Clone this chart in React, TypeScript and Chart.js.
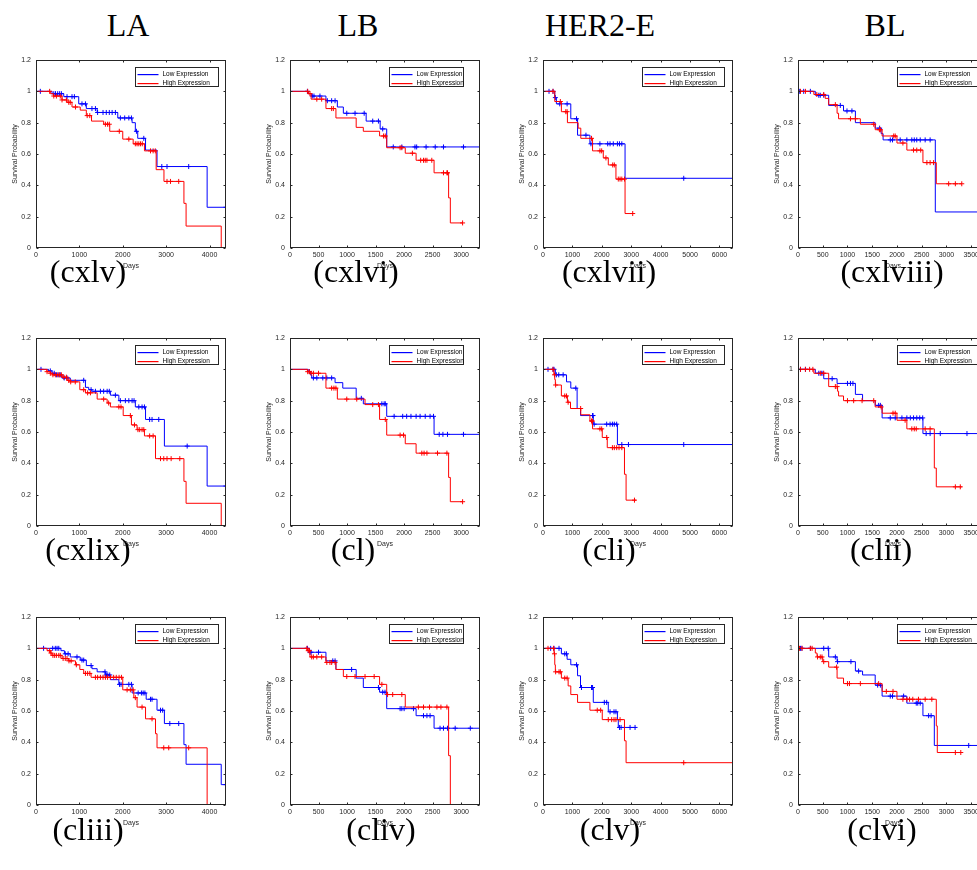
import React, { useEffect, useRef } from "react";
import { Chart, registerables } from "chart.js";

Chart.register(...registerables);

type Step = [number, number];

// ---------- text ----------
const columnTitles = ["LA", "LB", "HER2-E", "BL"];
const captions = [
  ["(cxlv)", "(cxlvi)", "(cxlvii)", "(cxlviii)"],
  ["(cxlix)", "(cl)", "(cli)", "(clii)"],
  ["(cliii)", "(cliv)", "(clv)", "(clvi)"],
];
const legendLabels = ["Low Expression", "High Expression"];
const xTitle = "Days";
const yTitle = "Survival Probability";

// ---------- axes ----------
const laTicks = [0, 1000, 2000, 3000, 4000];
const lbTicks = [0, 500, 1000, 1500, 2000, 2500, 3000];
const herTicks = [0, 1000, 2000, 3000, 4000, 5000, 6000];
const blTicks = [0, 500, 1000, 1500, 2000, 2500, 3000, 3500];
const columnTicks = [laTicks, lbTicks, herTicks, blTicks];
const columnXMax = [4380, 3330, 6460, 3840];
const yTicks = [0, 0.2, 0.4, 0.6, 0.8, 1, 1.2];

// ---------- data: [day, survival] steps, censor days ----------
// (cxlv) LA
const p145Low: Step[] = [[0, 1], [370, 0.985], [640, 0.966], [985, 0.92], [1160, 0.89], [1410, 0.865], [1885, 0.83], [2215, 0.8], [2290, 0.745], [2345, 0.7], [2525, 0.625], [2790, 0.52], [3945, 0.26], [4380, 0.26]];
const p145LowC = [100, 410, 450, 500, 545, 585, 715, 830, 885, 1060, 1140, 1290, 1370, 1420, 1545, 1620, 1690, 1755, 1830, 1945, 2045, 2140, 2200, 2315, 2485, 2900, 3020, 3520, 4380];
const p145High: Step[] = [[0, 1], [330, 0.985], [400, 0.97], [600, 0.945], [715, 0.93], [830, 0.9], [1020, 0.88], [1160, 0.845], [1280, 0.81], [1560, 0.79], [1700, 0.745], [2000, 0.695], [2240, 0.665], [2500, 0.62], [2770, 0.5], [2950, 0.425], [3410, 0.285], [3460, 0.14], [4270, 0]];
const p145HighC = [315, 410, 470, 560, 600, 700, 755, 790, 910, 1180, 1240, 1600, 1650, 1690, 1920, 2140, 2290, 2330, 2370, 2410, 2450, 2640, 2700, 2750, 3020, 3100, 3290];

// (cxlvi) LB
const p146Low: Step[] = [[0, 1], [320, 0.985], [380, 0.97], [630, 0.94], [830, 0.9], [935, 0.86], [1335, 0.81], [1580, 0.76], [1695, 0.645], [3330, 0.645]];
const p146LowC = [305, 390, 420, 525, 655, 730, 790, 995, 1140, 1300, 1450, 1550, 1625, 1810, 1960, 2190, 2220, 2385, 2545, 2690, 3040];
const p146High: Step[] = [[0, 1], [320, 0.985], [370, 0.95], [630, 0.89], [805, 0.83], [1160, 0.77], [1285, 0.745], [1570, 0.715], [1695, 0.64], [2020, 0.605], [2210, 0.56], [2525, 0.48], [2780, 0.32], [2810, 0.16], [3030, 0.16]];
const p146HighC = [310, 350, 470, 555, 730, 760, 1640, 1670, 1930, 1960, 2145, 2290, 2340, 2370, 2400, 2485, 2690, 2750, 2760, 3025];

// (cxlvii) HER2-E
const p147Low: Step[] = [[0, 1], [400, 0.96], [455, 0.92], [945, 0.825], [1175, 0.72], [1595, 0.665], [2790, 0.445], [6460, 0]];
const p147LowC = [205, 340, 420, 570, 820, 1140, 1460, 1630, 1935, 2200, 2280, 2390, 2530, 2600, 2680, 4785];
const p147High: Step[] = [[0, 1], [400, 0.935], [625, 0.87], [830, 0.8], [1195, 0.765], [1285, 0.7], [1685, 0.62], [2050, 0.575], [2220, 0.53], [2480, 0.44], [2790, 0.22], [3075, 0.22]];
const p147HighC = [340, 590, 775, 820, 1650, 1935, 1995, 2140, 2370, 2425, 2560, 2620, 2680, 2770, 3050];

// (cxlviii) BL
const p148Low: Step[] = [[0, 1], [350, 0.975], [620, 0.91], [920, 0.875], [1160, 0.8], [1560, 0.765], [1680, 0.73], [1720, 0.69], [2775, 0.23], [3840, 0.23]];
const p148LowC = [35, 115, 250, 420, 450, 520, 855, 990, 1090, 1650, 1865, 1910, 2065, 2200, 2300, 2350, 2400, 2470, 2570, 2670];
const p148High: Step[] = [[0, 1], [320, 0.98], [550, 0.955], [620, 0.915], [790, 0.86], [820, 0.825], [1260, 0.79], [1560, 0.755], [1700, 0.715], [2000, 0.67], [2200, 0.625], [2525, 0.545], [2795, 0.41], [3310, 0.41]];
const p148HighC = [50, 150, 380, 520, 755, 1060, 1160, 1530, 1645, 1665, 1935, 1965, 2120, 2335, 2400, 2480, 2605, 2670, 2740, 3045, 3180, 3310];

// (cxlix) LA
const p149Low: Step[] = [[0, 1], [290, 0.99], [370, 0.975], [450, 0.965], [600, 0.945], [790, 0.93], [1140, 0.885], [1215, 0.87], [1290, 0.86], [1715, 0.835], [1910, 0.8], [2290, 0.76], [2525, 0.68], [2960, 0.51], [3945, 0.255], [4380, 0.255]];
const p149LowC = [115, 330, 420, 470, 525, 560, 650, 715, 1100, 1270, 1370, 1485, 1560, 1640, 1690, 1830, 1945, 2060, 2140, 2215, 2260, 2370, 2445, 2500, 2620, 2675, 2830, 3485, 4380];
const p149High: Step[] = [[0, 1], [250, 0.985], [330, 0.975], [380, 0.965], [600, 0.95], [715, 0.93], [790, 0.92], [1010, 0.87], [1140, 0.85], [1410, 0.81], [1640, 0.785], [1715, 0.76], [2010, 0.705], [2200, 0.645], [2330, 0.615], [2500, 0.575], [2755, 0.43], [3410, 0.285], [3460, 0.145], [4270, 0]];
const p149HighC = [255, 330, 390, 445, 500, 545, 585, 640, 700, 755, 800, 905, 1100, 1190, 1255, 1560, 1675, 1910, 1960, 2175, 2270, 2350, 2390, 2445, 2485, 2620, 2700, 2870, 2945, 3020, 3115, 3315];

// (cl) LB
const p150Low: Step[] = [[0, 1], [320, 0.985], [360, 0.965], [380, 0.945], [790, 0.915], [925, 0.88], [1160, 0.815], [1285, 0.78], [1695, 0.7], [2525, 0.585], [3330, 0.585]];
const p150LowC = [340, 410, 470, 575, 645, 730, 1250, 1610, 1650, 1670, 1825, 1975, 2045, 2120, 2210, 2280, 2370, 2455, 2515, 2615, 2680, 2760, 3040];
const p150High: Step[] = [[0, 1], [305, 0.985], [350, 0.975], [630, 0.88], [830, 0.81], [1315, 0.775], [1570, 0.68], [1695, 0.58], [2020, 0.525], [2210, 0.465], [2780, 0.31], [2810, 0.155], [3030, 0.155]];
const p150HighC = [310, 340, 370, 410, 500, 730, 770, 805, 995, 1170, 1450, 1550, 1670, 1930, 1990, 2310, 2350, 2400, 2585, 2750, 3025];

// (cli) HER2-E
const p151Low: Step[] = [[0, 1], [420, 0.965], [800, 0.92], [945, 0.88], [1160, 0.75], [1275, 0.705], [1710, 0.65], [2530, 0.52], [6460, 0]];
const p151LowC = [170, 340, 375, 455, 535, 685, 1115, 1685, 1700, 1740, 2165, 2280, 2360, 2425, 2505, 2680, 2905, 4785];
const p151High: Step[] = [[0, 1], [370, 0.965], [400, 0.935], [420, 0.9], [625, 0.83], [830, 0.79], [935, 0.75], [1285, 0.71], [1595, 0.67], [1685, 0.62], [2015, 0.565], [2185, 0.5], [2770, 0.33], [2825, 0.165], [3165, 0.165]];
const p151HighC = [340, 390, 430, 740, 800, 855, 1280, 1650, 1680, 1935, 1995, 2165, 2360, 2425, 2505, 2585, 2680, 3110];

// (clii) BL
const p152Low: Step[] = [[0, 1], [350, 0.975], [520, 0.94], [790, 0.91], [1160, 0.84], [1305, 0.8], [1560, 0.77], [1700, 0.69], [2525, 0.59], [3840, 0.59]];
const p152LowC = [50, 150, 420, 470, 505, 690, 1000, 1060, 1110, 1630, 1665, 1865, 1965, 2100, 2200, 2270, 2335, 2400, 2460, 2520, 2590, 2670, 2875, 3415];
const p152High: Step[] = [[0, 1], [320, 0.975], [620, 0.89], [800, 0.86], [820, 0.83], [920, 0.8], [1560, 0.76], [1700, 0.72], [2000, 0.675], [2200, 0.62], [2755, 0.37], [2795, 0.25], [3310, 0.25]];
const p152HighC = [50, 150, 235, 300, 450, 520, 755, 790, 1000, 1125, 1295, 1530, 1680, 1920, 1965, 2165, 2300, 2350, 2390, 2570, 2670, 3180, 3280];

// (cliii) LA
const p153Low: Step[] = [[0, 1], [575, 0.985], [655, 0.965], [790, 0.945], [1020, 0.925], [1160, 0.89], [1290, 0.87], [1410, 0.85], [1600, 0.83], [1715, 0.8], [1910, 0.77], [2215, 0.715], [2540, 0.675], [2790, 0.605], [2960, 0.52], [3410, 0.385], [3460, 0.26], [4270, 0.13], [4380, 0.13]];
const p153LowC = [175, 385, 445, 485, 525, 675, 740, 945, 1060, 1100, 1270, 1590, 1620, 1655, 1700, 1925, 1960, 2140, 2200, 2355, 2430, 2470, 2510, 2640, 2675, 2870, 2920, 3085, 3290, 4380];
const p153High: Step[] = [[0, 1], [255, 0.985], [330, 0.97], [370, 0.955], [600, 0.935], [755, 0.92], [910, 0.895], [1010, 0.865], [1100, 0.84], [1270, 0.815], [2000, 0.735], [2255, 0.685], [2330, 0.625], [2525, 0.55], [2755, 0.455], [2790, 0.365], [3945, 0]];
const p153HighC = [315, 345, 390, 430, 470, 525, 560, 625, 675, 715, 760, 810, 930, 1140, 1190, 1240, 1370, 1420, 1485, 1545, 1600, 1650, 1715, 1790, 1850, 1915, 1970, 2100, 2175, 2240, 2290, 2445, 2675, 2945, 3060, 3520];

// (cliv) LB
const p154Low: Step[] = [[0, 1], [340, 0.975], [630, 0.92], [805, 0.865], [1160, 0.81], [1285, 0.75], [1570, 0.72], [1695, 0.615], [2210, 0.57], [2525, 0.49], [3330, 0.49]];
const p154LowC = [305, 350, 370, 500, 750, 790, 1080, 1550, 1625, 1665, 1930, 1960, 2000, 2165, 2340, 2400, 2455, 2630, 2690, 2760, 2895, 3160];
const p154High: Step[] = [[0, 1], [305, 0.985], [350, 0.945], [630, 0.91], [805, 0.865], [935, 0.82], [1570, 0.77], [1695, 0.705], [2020, 0.625], [2780, 0.315], [2810, 0]];
const p154HighC = [295, 320, 340, 380, 410, 470, 555, 645, 700, 730, 790, 995, 1140, 1315, 1475, 1610, 1710, 1800, 1960, 2250, 2340, 2445, 2575, 2645, 2750];

// (clv) HER2-E
const p155Low: Step[] = [[0, 1], [625, 0.965], [820, 0.93], [945, 0.895], [1175, 0.825], [1275, 0.75], [1710, 0.655], [2220, 0.595], [2530, 0.545], [2560, 0.495], [3165, 0.495]];
const p155LowC = [260, 375, 545, 740, 800, 1140, 1310, 1650, 1685, 2085, 2165, 2280, 2415, 2480, 2600, 2655, 2960, 3130];
const p155High: Step[] = [[0, 1], [375, 0.965], [400, 0.895], [420, 0.85], [625, 0.81], [855, 0.76], [945, 0.705], [1175, 0.655], [1595, 0.605], [2015, 0.545], [2770, 0.41], [2825, 0.27], [6460, 0]];
const p155HighC = [170, 360, 390, 430, 545, 590, 740, 820, 1845, 1960, 2220, 2335, 2415, 2480, 2620, 4785];

// (clvi) BL
const p156Low: Step[] = [[0, 1], [620, 0.945], [790, 0.915], [1160, 0.855], [1305, 0.83], [1560, 0.765], [1700, 0.695], [2200, 0.65], [2525, 0.57], [2755, 0.38], [3840, 0.38]];
const p156LowC = [50, 80, 250, 520, 610, 755, 800, 1070, 1225, 1610, 1665, 1865, 1910, 2135, 2390, 2420, 2470, 2640, 2690, 3450];
const p156High: Step[] = [[0, 1], [350, 0.97], [385, 0.945], [500, 0.915], [620, 0.88], [790, 0.81], [920, 0.775], [1700, 0.725], [2000, 0.675], [2795, 0.505], [2815, 0.335], [3310, 0.335]];
const p156HighC = [30, 80, 250, 285, 395, 450, 485, 520, 780, 1000, 1040, 1260, 1630, 1785, 1920, 2120, 2200, 2255, 2320, 2435, 2570, 2705, 3180, 3290];

type Panel = { low: Step[]; lowC: number[]; high: Step[]; highC: number[] };
const panels: Panel[][] = [
  [
    { low: p145Low, lowC: p145LowC, high: p145High, highC: p145HighC },
    { low: p146Low, lowC: p146LowC, high: p146High, highC: p146HighC },
    { low: p147Low, lowC: p147LowC, high: p147High, highC: p147HighC },
    { low: p148Low, lowC: p148LowC, high: p148High, highC: p148HighC },
  ],
  [
    { low: p149Low, lowC: p149LowC, high: p149High, highC: p149HighC },
    { low: p150Low, lowC: p150LowC, high: p150High, highC: p150HighC },
    { low: p151Low, lowC: p151LowC, high: p151High, highC: p151HighC },
    { low: p152Low, lowC: p152LowC, high: p152High, highC: p152HighC },
  ],
  [
    { low: p153Low, lowC: p153LowC, high: p153High, highC: p153HighC },
    { low: p154Low, lowC: p154LowC, high: p154High, highC: p154HighC },
    { low: p155Low, lowC: p155LowC, high: p155High, highC: p155HighC },
    { low: p156Low, lowC: p156LowC, high: p156High, highC: p156HighC },
  ],
];

// ---------- layout / style ----------
const PLOT_LEFTS = [36, 290, 543, 798];
const PLOT_TOPS = [60, 338, 617];
const PLOT_W = 190;
const PLOT_H = 188;
const PAD_L = 40;
const PAD_T = 10;
const PAD_R = 14;
const PAD_B = 30;
const LEGEND_WIDTHS = [83, 74, 82, 83];
const BLUE = "#0000ff";
const RED = "#ff0000";
const AXIS = "#262626";
const SANS = "'Liberation Sans', Arial, Helvetica, sans-serif";
const SERIF = "'Liberation Serif', 'Times New Roman', serif";
const headerCenters = [128, 358, 600, 885];
const captionCenters = [
  [88, 356, 609, 892],
  [88, 353, 609, 881],
  [88, 381, 610, 882],
];
const captionMidY = [271, 549, 829];
const headerMidY = 25;
const LABEL_SIZE = 32;

function survivalAt(steps: Step[], t: number): number {
  let v = steps[0][1];
  for (const [st, sv] of steps) if (st <= t) v = sv;
  return v;
}

const framePlugin = {
  id: "kmFrame",
  afterDatasetsDraw(chart: any, _args: any, opts: any) {
    const { ctx, chartArea: a, scales } = chart;
    const L = Math.round(a.left) + 0.5;
    const T = Math.round(a.top) + 0.5;
    const R = Math.round(a.right) - 0.5;
    const B = Math.round(a.bottom) - 0.5;
    ctx.save();
    ctx.strokeStyle = AXIS;
    ctx.lineWidth = 1;
    ctx.strokeRect(L, T, R - L, B - T);
    const tl = 2;
    ctx.beginPath();
    for (const t of scales.x.ticks) {
      const px = Math.round(scales.x.getPixelForValue(t.value)) + 0.5;
      ctx.moveTo(px, B);
      ctx.lineTo(px, B - tl);
      ctx.moveTo(px, T);
      ctx.lineTo(px, T + tl);
    }
    for (const t of scales.y.ticks) {
      const py = Math.round(scales.y.getPixelForValue(t.value)) + 0.5;
      ctx.moveTo(L, py);
      ctx.lineTo(L + tl, py);
      ctx.moveTo(R, py);
      ctx.lineTo(R - tl, py);
    }
    ctx.stroke();

    // legend
    const lw = opts.legendWidth as number;
    const bx = Math.round(a.left) + 99 + 0.5;
    const by = Math.round(a.top) + 7 + 0.5;
    const bh = 19;
    ctx.fillStyle = "#ffffff";
    ctx.fillRect(bx, by, lw, bh);
    ctx.strokeStyle = AXIS;
    ctx.strokeRect(bx, by, lw, bh);
    const colors = [BLUE, RED];
    ctx.font = `6.5px ${SANS}`;
    ctx.textBaseline = "middle";
    ctx.textAlign = "left";
    legendLabels.forEach((lab, i) => {
      const yy = Math.round(by + 6 + i * 9);
      ctx.fillStyle = colors[i];
      ctx.fillRect(bx + 2, yy, 21, 1.2);
      ctx.fillStyle = "#000";
      ctx.fillText(lab, bx + 27, yy + 0.5);
    });

    // axis titles
    ctx.fillStyle = AXIS;
    ctx.font = `7px ${SANS}`;
    ctx.textAlign = "center";
    ctx.textBaseline = "middle";
    ctx.fillText(xTitle, (a.left + a.right) / 2, a.bottom + 18.5);
    ctx.translate(a.left - 21, (a.top + a.bottom) / 2);
    ctx.rotate(-Math.PI / 2);
    ctx.fillText(yTitle, 0, 0);
    ctx.restore();
  },
};

function KMPanel({ row, col }: { row: number; col: number }) {
  const ref = useRef<HTMLCanvasElement>(null);
  useEffect(() => {
    const canvas = ref.current;
    if (!canvas) return;
    const p = panels[row][col];
    const xTicks = columnTicks[col];
    const xMax = columnXMax[col];
    const toLine = (steps: Step[]) => steps.map(([x, y]) => ({ x, y }));
    const toCens = (steps: Step[], times: number[]) => times.map((t) => ({ x: t, y: survivalAt(steps, t) }));
    const tickFont = { family: SANS, size: 7 };
    const chart = new Chart(canvas, {
      type: "scatter",
      data: {
        datasets: [
          { label: legendLabels[1], data: toCens(p.high, p.highC), pointStyle: "cross", pointRadius: 2.5, borderColor: RED, backgroundColor: RED, borderWidth: 1, showLine: false },
          { label: legendLabels[1], data: toLine(p.high), showLine: true, stepped: "before", borderColor: RED, backgroundColor: RED, borderWidth: 1, pointRadius: 0, fill: false },
          { label: legendLabels[0], data: toCens(p.low, p.lowC), pointStyle: "cross", pointRadius: 2.5, borderColor: BLUE, backgroundColor: BLUE, borderWidth: 1, showLine: false },
          { label: legendLabels[0], data: toLine(p.low), showLine: true, stepped: "before", borderColor: BLUE, backgroundColor: BLUE, borderWidth: 1, pointRadius: 0, fill: false },
        ] as any,
      },
      options: {
        responsive: false,
        animation: false,
        devicePixelRatio: 1,
        events: [],
        layout: { padding: { top: PAD_T, right: PAD_R, left: 0, bottom: 0 } },
        plugins: {
          legend: { display: false },
          tooltip: { enabled: false },
          kmFrame: { legendWidth: LEGEND_WIDTHS[col] },
        } as any,
        scales: {
          x: {
            type: "linear",
            min: 0,
            max: xMax,
            afterBuildTicks: (s: any) => {
              s.ticks = xTicks.map((v) => ({ value: v }));
            },
            afterFit: (s: any) => {
              s.height = PAD_B;
            },
            grid: { display: false, drawTicks: false },
            border: { display: false },
            ticks: { padding: 3, color: AXIS, font: tickFont, maxRotation: 0, minRotation: 0, autoSkip: false, callback: (v: any) => String(v) },
          },
          y: {
            type: "linear",
            min: 0,
            max: 1.2,
            afterBuildTicks: (s: any) => {
              s.ticks = yTicks.map((v) => ({ value: v }));
            },
            afterFit: (s: any) => {
              s.width = PAD_L;
            },
            grid: { display: false, drawTicks: false },
            border: { display: false },
            ticks: { padding: 5, color: AXIS, font: tickFont, autoSkip: false, callback: (v: any) => String(v) },
          },
        },
      } as any,
      plugins: [framePlugin as any],
    });
    return () => chart.destroy();
  }, [row, col]);
  const w = PLOT_W + PAD_L + PAD_R;
  const h = PLOT_H + PAD_T + PAD_B;
  return (
    <canvas
      ref={ref}
      width={w}
      height={h}
      style={{ position: "absolute", left: PLOT_LEFTS[col] - PAD_L, top: PLOT_TOPS[row] - PAD_T, width: w, height: h }}
    />
  );
}

function Label({ text, cx, cy }: { text: string; cx: number; cy: number }) {
  return (
    <div
      style={{
        position: "absolute",
        left: cx,
        top: cy - LABEL_SIZE / 2,
        transform: "translateX(-50%)",
        fontFamily: SERIF,
        fontSize: LABEL_SIZE,
        lineHeight: `${LABEL_SIZE}px`,
        whiteSpace: "nowrap",
        color: "#000",
      }}
    >
      {text}
    </div>
  );
}

export default function App() {
  return (
    <div style={{ position: "fixed", left: 0, top: 0, width: 977, height: 870, overflow: "hidden", background: "#fff" }}>
      {panels.map((r, ri) => r.map((_, ci) => <KMPanel key={`${ri}-${ci}`} row={ri} col={ci} />))}
      {columnTitles.map((t, i) => (
        <Label key={t} text={t} cx={headerCenters[i]} cy={headerMidY} />
      ))}
      {captions.map((r, ri) => r.map((t, ci) => <Label key={t} text={t} cx={captionCenters[ri][ci]} cy={captionMidY[ri]} />))}
    </div>
  );
}
